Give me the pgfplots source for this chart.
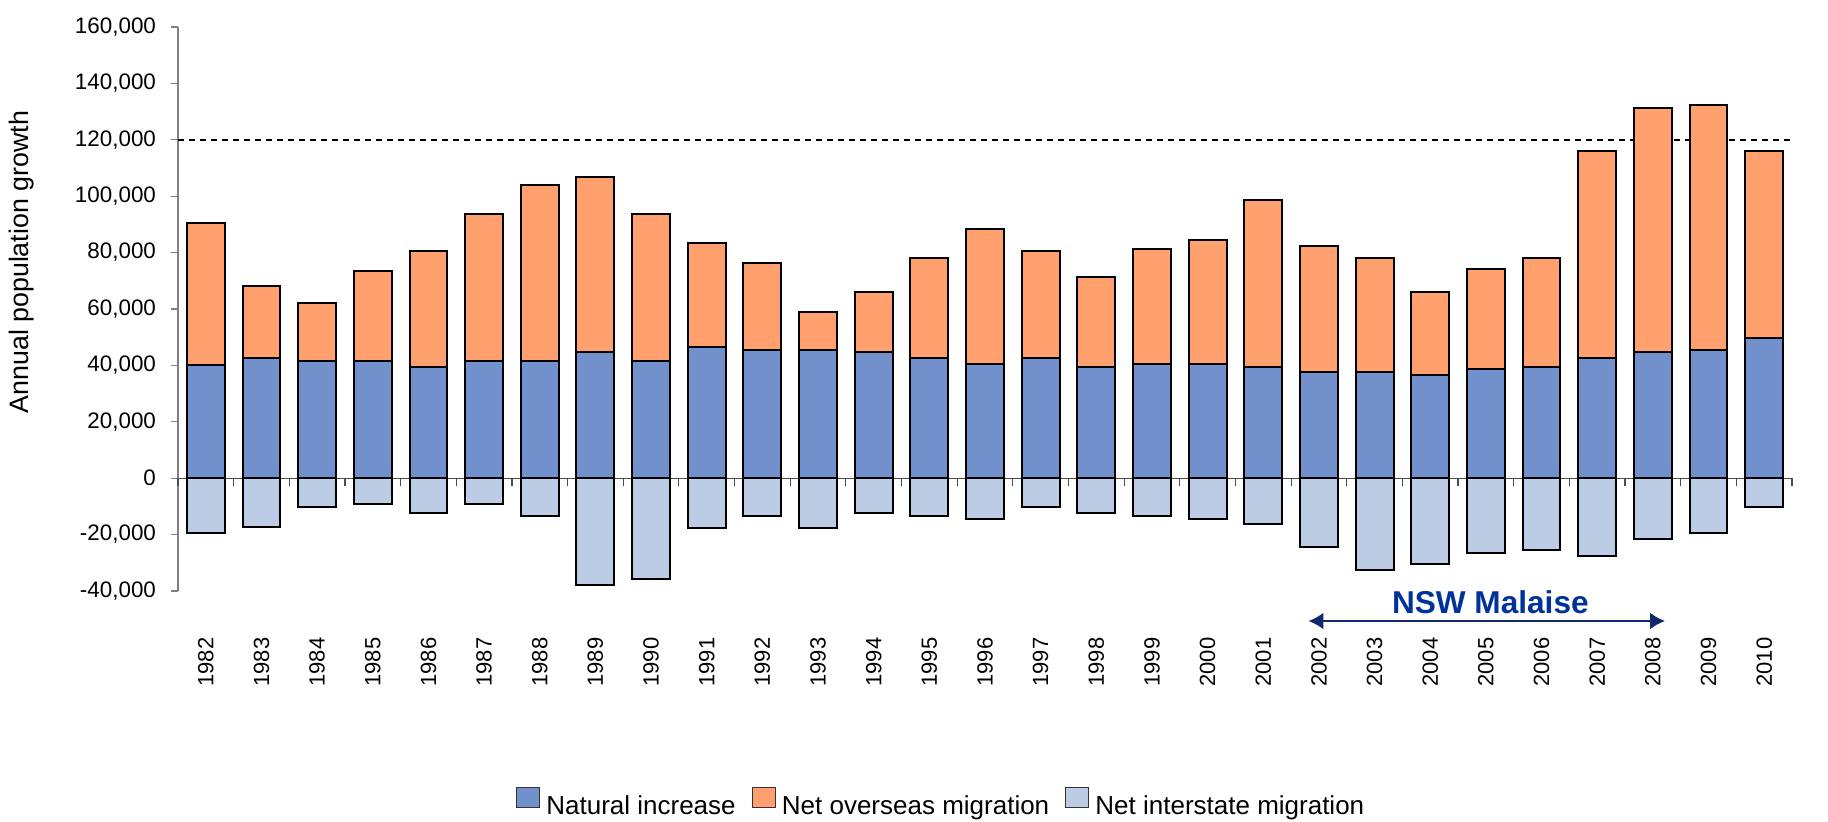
\documentclass[border=0pt]{standalone}
\usepackage{fontspec}
\setmainfont{Liberation Sans}
\usepackage{pgfplots}
\pgfplotsset{compat=1.18}
\usepackage{pgfplotstable}
\usetikzlibrary{arrows.meta}
\definecolor{nicol}{RGB}{114,145,204}
\definecolor{oscol}{RGB}{255,160,110}
\definecolor{iscol}{RGB}{188,204,228}
\definecolor{arrcol}{RGB}{16,40,110}
\definecolor{txtcol}{RGB}{0,51,153}
\definecolor{axcol}{RGB}{128,128,128}

\pgfplotstableread{
idx year ni os is
0 1982 40300 50200 -19600
1 1983 42700 25600 -17400
2 1984 41600 20600 -10300
3 1985 41600 31800 -9200
4 1986 39600 41000 -12400
5 1987 41600 52000 -9200
6 1988 41600 62200 -13400
7 1989 44600 62200 -37900
8 1990 41600 52000 -35700
9 1991 46700 36700 -17500
10 1992 45600 30600 -13400
11 1993 45600 13400 -17500
12 1994 44700 21200 -12200
13 1995 42600 35600 -13400
14 1996 40500 47800 -14500
15 1997 42600 37800 -10300
16 1998 39500 31700 -12400
17 1999 40500 40700 -13400
18 2000 40500 43800 -14500
19 2001 39500 59000 -16400
20 2002 37600 44600 -24500
21 2003 37600 40600 -32600
22 2004 36600 29300 -30600
23 2005 38600 35600 -26600
24 2006 39500 38700 -25500
25 2007 42600 73300 -27600
26 2008 44700 86500 -21400
27 2009 45600 86700 -19500
28 2010 49800 66100 -10300
}\data

\begin{document}
\begin{tikzpicture}
\path[use as bounding box] (0,0) rectangle (914pt,410.5pt);
\begin{axis}[
  at={(89pt,115pt)}, anchor=south west,
  scale only axis, width=807pt, height=282pt,
  xmin=-0.5, xmax=28.5, ymin=-40000, ymax=160000,
  clip=false,
  ybar, bar width=0.68, bar shift=0pt,
  axis x line*=bottom, axis y line*=left,
  x axis line style={draw=none},
  y axis line style={draw=axcol, line width=0.6pt},
  xtick={0,...,28},
  xticklabels from table={\data}{year},
  xtick style={draw=none},
  xticklabel style={rotate=90, anchor=east, font=\fontsize{11}{13}\selectfont},
  xticklabel shift=16.3pt,
  ytick={-40000,-20000,0,20000,40000,60000,80000,100000,120000,140000,160000},
  yticklabels={{-40,000},{-20,000},{0},{20,000},{40,000},{60,000},{80,000},{100,000},{120,000},{140,000},{160,000}},
  ytick style={draw=axcol, line width=0.6pt},
  tick align=outside, major tick length=3.5pt,
  yticklabel style={font=\fontsize{11.2}{13}\selectfont, xshift=-4pt},
  scaled y ticks=false,
  ylabel={Annual population growth},
  ylabel style={at={(axis description cs:-0.097,0.583)}, anchor=center, font=\fontsize{13.4}{15}\selectfont},
  legend style={at={(0.4735,-0.3785)}, anchor=center, draw=none, fill=none,
    legend columns=-1, font=\fontsize{13}{15}\selectfont,
    /tikz/every even column/.append style={column sep=6pt},
    /tikz/every odd column/.append style={column sep=1pt}},
]
\draw[black, line width=0.8pt, dash pattern=on 3pt off 2.5pt] (axis cs:-0.5,120000) -- (axis cs:28.5,120000);
\draw[black!70, line width=0.6pt] (axis cs:-0.5,0) -- (axis cs:28.5,0);
\pgfplotsinvokeforeach{-0.5,0.5,...,28.5}{\draw[black!70, line width=0.6pt] (axis cs:#1,0) -- ++(0pt,-4pt);}

\addplot[fill=oscol, draw=black, line width=1pt, forget plot] table[x=idx, y expr=\thisrow{ni}+\thisrow{os}] {\data};
\addplot[fill=nicol, draw=black, line width=1pt, forget plot] table[x=idx, y=ni] {\data};
\addplot[fill=iscol, draw=black, line width=1pt, forget plot] table[x=idx, y=is] {\data};

\addlegendimage{legend image code/.code={\draw[fill=nicol,draw=black!80,line width=0.6pt] (0pt,-0.5pt) rectangle (11.5pt,9.5pt);}}
\addlegendentry{Natural increase}
\addlegendimage{legend image code/.code={\draw[fill=oscol,draw=black!80,line width=0.6pt] (0pt,-0.5pt) rectangle (11.5pt,9.5pt);}}
\addlegendentry{Net overseas migration}
\addlegendimage{legend image code/.code={\draw[fill=iscol,draw=black!80,line width=0.6pt] (0pt,-0.5pt) rectangle (11.5pt,9.5pt);}}
\addlegendentry{Net interstate migration}

\draw[{Latex[length=7.5pt,width=8.5pt]}-{Latex[length=7.5pt,width=8.5pt]}, arrcol, line width=1.3pt] (axis cs:19.81,-50640) -- (axis cs:26.22,-50640);
\node[font=\bfseries\fontsize{15.8}{18}\selectfont, text=txtcol] at (axis cs:23.08,-43900) {NSW Malaise};
\end{axis}
\end{tikzpicture}
\end{document}
